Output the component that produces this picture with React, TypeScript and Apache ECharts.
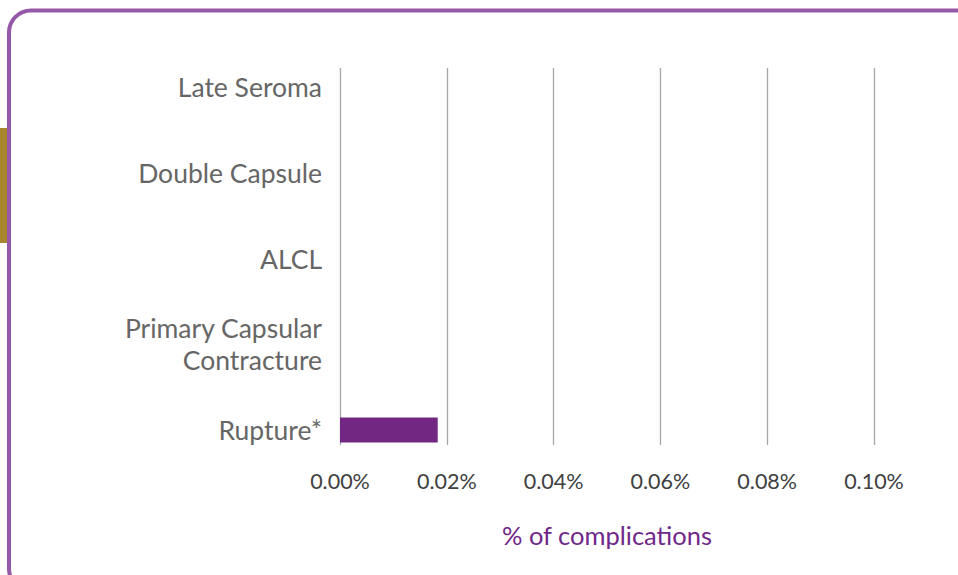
import React, { useEffect, useRef } from "react";
import * as echarts from "echarts";

const categories = [
  "Rupture*",
  "Primary Capsular\nContracture",
  "ALCL",
  "Double Capsule",
  "Late Seroma",
];
const values = [0.0183, 0, 0, 0, 0];
const axisMin = 0;
const axisMax = 0.1;
const axisInterval = 0.02;
const axisTitle = "% of complications";

export default function App() {
  const ref = useRef<HTMLDivElement>(null);
  useEffect(() => {
    if (!ref.current) return;
    const chart = echarts.init(ref.current, null, { renderer: "svg" });
    const font = "Lato, 'Open Sans', sans-serif";
    chart.setOption({
      animation: false,
      backgroundColor: "#ffffff",
      graphic: [
        {
          type: "rect",
          shape: { x: 9, y: 10.5, width: 1000, height: 580, r: 22 },
          style: { fill: "none", stroke: "#9658a8", lineWidth: 4 },
          z: 10,
        },
        {
          type: "rect",
          shape: { x: 0, y: 128, width: 7, height: 115 },
          style: { fill: "#a8862e" },
          z: 10,
        },
      ],
      grid: [
        { left: 340, right: 84, top: 68, bottom: 575 - 445 },
        { left: 340, right: 84, top: 44, bottom: 575 - 473 },
      ],
      xAxis: [
        {
          type: "value",
          gridIndex: 0,
          min: axisMin,
          max: axisMax,
          interval: axisInterval,
          axisLine: { show: false },
          axisTick: { show: false },
          splitLine: { show: true, lineStyle: { color: "#a6a6a6", width: 1.3 } },
          axisLabel: {
            formatter: (v: number) => v.toFixed(2) + "%",
            color: "#404040",
            fontSize: 21.5,
            fontFamily: font,
            margin: 25,
          },
          name: axisTitle,
          nameLocation: "middle",
          nameGap: 77,
          nameTextStyle: { color: "#70288a", fontSize: 25.5, fontFamily: font },
        },
        {
          type: "value",
          gridIndex: 1,
          min: axisMin,
          max: axisMax,
          show: false,
        },
      ],
      yAxis: [
        { type: "value", gridIndex: 0, show: false },
        {
          type: "category",
          gridIndex: 1,
          data: categories,
          axisLine: { show: false },
          axisTick: { show: false },
          splitLine: { show: false },
          axisLabel: {
            color: "#666666",
            fontSize: 26.5,
            lineHeight: 32,
            fontFamily: font,
            margin: 18,
          },
        },
      ],
      series: [
        {
          type: "bar",
          xAxisIndex: 1,
          yAxisIndex: 1,
          data: values,
          barWidth: 25,
          itemStyle: { color: "#722882" },
        },
      ],
    });
    return () => chart.dispose();
  }, []);
  return (
    <div
      ref={ref}
      style={{ position: "fixed", left: 0, top: 0, width: 958, height: 575 }}
    />
  );
}
